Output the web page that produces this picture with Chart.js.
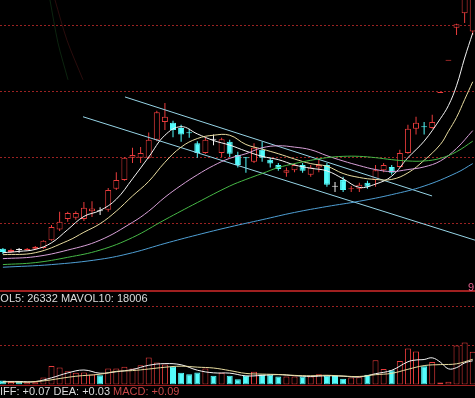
<!DOCTYPE html>
<html>
<head>
<meta charset="utf-8">
<script src="https://cdn.jsdelivr.net/npm/chart.js@4.4.1/dist/chart.umd.min.js"></script>
<style>
  html, body { margin: 0; padding: 0; background: #000; }
  #wrap { position: relative; width: 475px; height: 398px; overflow: hidden; background: #000; }
  #wrap canvas { position: absolute; left: 0; }
  #klineChart { top: 0; }
  #volChart { top: 290px; }
  .label {
    position: absolute;
    font: 11px "Liberation Sans", Arial, sans-serif;
    line-height: 12px;
    color: #dcdcdc;
    white-space: nowrap;
  }
  #volLabel { left: -7px; top: 292px; }
  #macdLabel { left: -8px; top: 385px; }
  #macdLabel .macd { color: #c84848; }
  #priceTag { left: 468px; top: 281px; color: #e0608c; }
</style>
</head>
<body>
<div id="wrap">
  <canvas id="klineChart" width="475" height="290"></canvas>
  <canvas id="volChart" width="475" height="97"></canvas>
  <div class="label" id="volLabel">VOL5: 26332 MAVOL10: 18006</div>
  <div class="label" id="macdLabel">DIFF: +0.07 DEA: +0.03 <span class="macd">MACD: +0.09</span></div>
  <div class="label" id="priceTag">9</div>
</div>
<script>
// daily bars, oldest first
const opens = [
  2.61, 2.56, 2.59, 2.59, 2.61, 2.62, 2.74, 2.90, 3.06, 3.08,
  3.06, 3.18, 3.18, 3.20, 3.52, 3.65, 3.99, 3.99, 3.99, 4.26,
  4.53, 4.52, 4.44, 4.37, 4.21, 4.06, 4.26, 4.06, 4.23, 4.03,
  3.99, 3.93, 4.11, 3.96, 3.88, 3.76, 3.80, 3.88, 3.73, 3.84,
  3.88, 3.55, 3.65, 3.51, 3.52, 3.61, 3.65, 3.80, 3.85, 3.85,
  4.06, 4.43, 4.46, 4.44, 4.97, 5.46, 5.96, 6.18, 5.90
];
const highs = [
  2.62, 2.61, 2.62, 2.62, 2.65, 2.74, 2.97, 3.17, 3.17, 3.18,
  3.32, 3.33, 3.24, 3.53, 3.77, 4.00, 4.14, 4.15, 4.37, 4.70,
  4.82, 4.55, 4.49, 4.43, 4.24, 4.30, 4.34, 4.29, 4.26, 4.08,
  4.00, 4.21, 4.23, 3.99, 3.91, 3.84, 3.91, 3.91, 3.88, 3.96,
  3.91, 3.62, 3.70, 3.56, 3.61, 3.64, 3.88, 3.91, 3.88, 4.11,
  4.49, 4.61, 4.53, 4.64, 4.97, 5.46, 6.02, 6.61, 6.61
];
const lows = [
  2.53, 2.55, 2.55, 2.58, 2.59, 2.61, 2.73, 2.88, 3.02, 3.05,
  3.03, 3.09, 3.12, 3.17, 3.50, 3.64, 3.91, 3.91, 3.97, 4.24,
  4.41, 4.30, 4.23, 4.29, 3.99, 4.05, 4.18, 4.00, 4.00, 3.84,
  3.76, 3.91, 3.93, 3.84, 3.79, 3.70, 3.77, 3.76, 3.70, 3.77,
  3.55, 3.47, 3.47, 3.47, 3.47, 3.52, 3.55, 3.77, 3.73, 3.84,
  4.05, 4.34, 4.34, 4.43, 4.97, 5.46, 5.85, 6.03, 5.85
];
const closes = [
  2.56, 2.59, 2.59, 2.61, 2.64, 2.73, 2.94, 3.02, 3.15, 3.15,
  3.23, 3.22, 3.18, 3.50, 3.65, 3.99, 4.03, 4.06, 4.26, 4.68,
  4.61, 4.41, 4.34, 4.36, 4.06, 4.26, 4.26, 4.27, 4.05, 3.88,
  3.98, 4.14, 3.99, 3.90, 3.82, 3.80, 3.88, 3.79, 3.84, 3.88,
  3.58, 3.55, 3.50, 3.52, 3.58, 3.55, 3.80, 3.88, 3.76, 4.06,
  4.43, 4.52, 4.45, 4.53, 4.97, 5.46, 6.01, 6.50, 6.45
];
const volumes = [
  4100, 2600, 3400, 2300, 2300, 7100, 18900, 17300, 13600, 11900,
  12200, 10200, 9500, 16300, 16300, 18100, 16300, 19700, 27500, 22400,
  20400, 18100, 11900, 10500, 12200, 16300, 8900, 11900, 8900, 5400,
  8900, 13000, 10200, 10200, 8200, 8200, 8200, 8200, 8200, 10500,
  9200, 8700, 5800, 7100, 7300, 9900, 24800, 15800, 14600, 24000,
  36700, 33700, 18700, 23000, 2000, 2800, 39800, 42800, 33400
];

// moving averages (bar index -> value)
const ma5Idx = [0, 2, 4, 6, 8, 10, 12, 14, 16, 18, 20, 22, 24, 26, 28, 30, 32, 34, 36, 38, 40, 42, 44, 46, 48, 50, 52, 54, 55, 56, 57, 58];
const ma5 = [2.55, 2.57, 2.60, 2.70, 2.90, 3.10, 3.19, 3.36, 3.67, 4.00, 4.33, 4.46, 4.35, 4.25, 4.18, 4.09, 4.01, 3.96, 3.88, 3.83, 3.79, 3.67, 3.54, 3.59, 3.71, 3.99, 4.24, 4.58, 4.78, 5.08, 5.50, 5.88];
const ma10Idx = [0, 4, 8, 10, 12, 14, 16, 18, 20, 22, 24, 26, 28, 30, 32, 34, 36, 38, 40, 42, 44, 46, 48, 50, 52, 54, 55, 56, 57, 58];
const ma10 = [2.52, 2.55, 2.73, 2.86, 2.99, 3.18, 3.41, 3.63, 3.92, 4.15, 4.28, 4.33, 4.33, 4.19, 4.12, 4.05, 3.97, 3.90, 3.86, 3.75, 3.69, 3.66, 3.66, 3.76, 3.95, 4.19, 4.39, 4.60, 4.87, 5.14];
const ma20Idx = [0, 4, 8, 12, 16, 18, 20, 22, 24, 26, 28, 30, 32, 34, 36, 38, 40, 42, 44, 46, 48, 50, 52, 54, 56, 58];
const ma20 = [2.46, 2.49, 2.59, 2.74, 3.01, 3.18, 3.39, 3.57, 3.73, 3.87, 3.98, 4.05, 4.14, 4.17, 4.15, 4.11, 4.02, 3.94, 3.87, 3.81, 3.78, 3.81, 3.85, 3.94, 4.13, 4.40];
const ma30Idx = [0, 4, 8, 12, 16, 20, 24, 28, 30, 32, 34, 36, 38, 40, 42, 44, 46, 48, 50, 52, 54, 56, 58];
const ma30 = [2.37, 2.40, 2.48, 2.59, 2.78, 3.05, 3.31, 3.56, 3.66, 3.75, 3.84, 3.90, 3.95, 3.99, 4.01, 4.01, 3.99, 3.96, 3.94, 3.94, 3.98, 4.08, 4.24];
const ma60Idx = [0, 6, 12, 16, 20, 24, 28, 32, 36, 40, 44, 48, 52, 56, 58];
const ma60 = [2.33, 2.37, 2.45, 2.55, 2.69, 2.82, 2.94, 3.05, 3.16, 3.25, 3.33, 3.43, 3.56, 3.76, 3.90];

// hand-drawn channel, [bar index, price]
const channelUpper = [[15.07, 4.91], [52.98, 3.41]];
const channelLower = [[9.89, 4.61], [58.28, 2.74]];
// faint traces at the top left
const faintGreen = [[5.81, 6.38], [6.80, 5.73], [8.04, 5.17]];
const faintRed = [[6.43, 6.38], [7.91, 5.77], [9.89, 5.17]];

const mavol5Idx = [0, 2, 4, 6, 8, 10, 12, 14, 16, 18, 20, 22, 24, 26, 28, 30, 32, 34, 36, 38, 40, 42, 44, 46, 48, 50, 51, 52, 53, 54, 55, 56, 57, 58];
const mavol5 = [3100, 3100, 3000, 6800, 11800, 14800, 11500, 13000, 15300, 19600, 21300, 20100, 14600, 11900, 11600, 8800, 9300, 10100, 9000, 8200, 8900, 8500, 7700, 11000, 14500, 23200, 25000, 25500, 27200, 22800, 16000, 17200, 22000, 24200];
const mavol10Idx = [0, 4, 9, 12, 14, 16, 18, 20, 22, 24, 26, 28, 30, 32, 34, 36, 38, 40, 42, 44, 46, 48, 50, 52, 54, 56, 58];
const mavol10 = [2600, 2900, 8400, 10500, 13400, 14200, 15800, 17600, 18700, 17700, 16800, 14200, 11300, 10600, 10200, 9300, 8900, 9400, 8600, 8200, 10000, 11400, 15500, 19300, 20300, 21100, 25700];

const priceTicks = [3, 4, 5, 6];
const volumeTicks = [40000, 80000];

const RED = '#e83c3c';
const CYAN = '#54fcfc';
const WHITE = '#f0f0f0';
const GRID = '#9a2222';

const bars = opens.map((_, i) => i);

function candleColor(i) {
    if (closes[i] > opens[i]) return RED;
    if (closes[i] < opens[i]) return CYAN;
    return highs[i] === lows[i] ? RED : WHITE;
}

function volumeUp(i) {
    if (closes[i] !== opens[i]) return closes[i] > opens[i];
    return i > 0 && closes[i] > closes[i - 1];
}

function toPoints(xs, ys) {
    return xs.map((x, k) => ({ x: x, y: ys[k] }));
}

function pairPoints(pairs) {
    return pairs.map(p => ({ x: p[0], y: p[1] }));
}

function lineSet(label, data, color, tension) {
    return {
        type: 'line',
        label: label,
        data: data,
        borderColor: color,
        borderWidth: 1,
        pointRadius: 0,
        tension: tension,
        fill: false,
        order: 0
    };
}

// dotted guide lines at fixed axis values plus optional solid rules
const panelGrid = {
    id: 'panelGrid',
    beforeDatasetsDraw(chart, args, opts) {
        const { ctx } = chart;
        const y = chart.scales.y;
        ctx.save();
        ctx.strokeStyle = opts.color;
        ctx.lineWidth = 1;
        ctx.setLineDash([2, 2]);
        opts.values.forEach(v => {
            const py = Math.round(y.getPixelForValue(v)) + 0.5;
            ctx.beginPath();
            ctx.moveTo(0, py);
            ctx.lineTo(chart.width, py);
            ctx.stroke();
        });
        ctx.setLineDash([]);
        ctx.strokeStyle = opts.ruleColor;
        (opts.rules || []).forEach(r => {
            ctx.lineWidth = r.w;
            ctx.beginPath();
            ctx.moveTo(0, r.y);
            ctx.lineTo(chart.width, r.y);
            ctx.stroke();
        });
        ctx.restore();
    }
};

const xScale = { type: 'linear', min: -0.358, max: 58.28, offset: false, display: false };

new Chart(document.getElementById('klineChart'), {
    type: 'bar',
    data: {
        datasets: [
            lineSet('faint1', pairPoints(faintGreen), 'rgba(40,120,50,0.3)', 0.3),
            lineSet('faint2', pairPoints(faintRed), 'rgba(120,35,35,0.35)', 0.3),
            lineSet('MA60', toPoints(ma60Idx, ma60), '#4f9fd4', 0.4),
            lineSet('MA30', toPoints(ma30Idx, ma30), '#46b846', 0.4),
            lineSet('MA20', toPoints(ma20Idx, ma20), '#d8a0d8', 0.4),
            lineSet('MA10', toPoints(ma10Idx, ma10), '#e8dca0', 0.4),
            lineSet('MA5', toPoints(ma5Idx, ma5), '#f4f4f4', 0.4),
            lineSet('upper', pairPoints(channelUpper), '#96d4e6', 0),
            lineSet('lower', pairPoints(channelLower), '#96d4e6', 0),
            {
                label: 'body',
                data: bars.map(i => ({ x: i, y: [opens[i], closes[i]] })),
                backgroundColor: bars.map(i => closes[i] > opens[i] ? '#000' : candleColor(i)),
                borderColor: bars.map(candleColor),
                borderWidth: 1,
                borderSkipped: false,
                barThickness: 6,
                minBarLength: 1,
                inflateAmount: 0,
                grouped: false,
                order: 1
            },
            {
                label: 'wick',
                data: bars.map(i => ({ x: i, y: [lows[i], highs[i]] })),
                backgroundColor: bars.map(candleColor),
                borderWidth: 0,
                barThickness: 1,
                inflateAmount: 0,
                grouped: false,
                order: 2
            }
        ]
    },
    options: {
        responsive: false,
        animation: false,
        devicePixelRatio: 1,
        layout: { padding: 0 },
        plugins: {
            legend: { display: false },
            tooltip: { enabled: false },
            panelGrid: { values: priceTicks, color: GRID, ruleColor: GRID, rules: [] }
        },
        scales: {
            x: xScale,
            y: { min: 1.985, max: 6.379, display: false }
        }
    },
    plugins: [panelGrid]
});

new Chart(document.getElementById('volChart'), {
    type: 'bar',
    data: {
        datasets: [
            lineSet('MAVOL10', toPoints(mavol10Idx, mavol10), '#e8dca0', 0.4),
            lineSet('MAVOL5', toPoints(mavol5Idx, mavol5), '#f4f4f4', 0.4),
            {
                label: 'VOL',
                data: bars.map(i => ({ x: i, y: volumes[i] })),
                backgroundColor: bars.map(i => volumeUp(i) ? '#000' : CYAN),
                borderColor: bars.map(i => volumeUp(i) ? RED : CYAN),
                borderWidth: 1,
                borderSkipped: false,
                barThickness: 6,
                inflateAmount: 0,
                grouped: false,
                order: 1
            }
        ]
    },
    options: {
        responsive: false,
        animation: false,
        devicePixelRatio: 1,
        layout: { padding: { top: 0, bottom: 2.5, left: 0, right: 0 } },
        plugins: {
            legend: { display: false },
            tooltip: { enabled: false },
            panelGrid: {
                values: volumeTicks,
                color: GRID,
                ruleColor: '#a02020',
                rules: [{ y: 1, w: 2 }, { y: 95.5, w: 1 }]
            }
        },
        scales: {
            x: xScale,
            y: { min: 0, max: 96390, display: false }
        }
    },
    plugins: [panelGrid]
});
</script>
</body>
</html>
